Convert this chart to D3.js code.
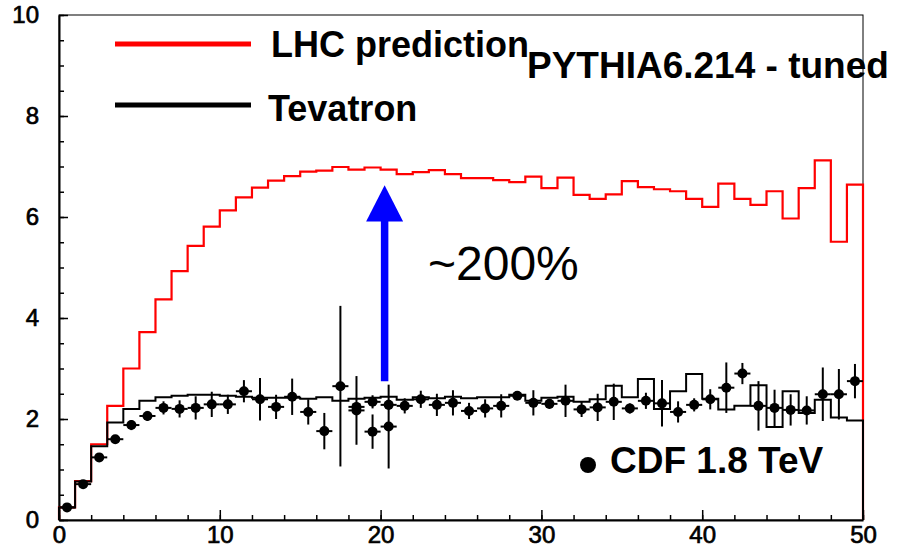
<!DOCTYPE html>
<html>
<head>
<meta charset="utf-8">
<script src="https://cdn.jsdelivr.net/npm/d3@7/dist/d3.min.js"></script>
<style>
body { margin: 0; background: #fff; }
svg { display: block; font-family: 'Liberation Sans', Arial, sans-serif; }
.axis text { font-size: 24px; fill: #000; stroke: #000; stroke-width: 0.7px; }
.axis line { stroke: #000; stroke-width: 1.5; }
.axis path { stroke: #000; stroke-width: 2; }
.label { font-size: 36px; font-weight: bold; fill: #000; }
</style>
</head>
<body>
<svg width="904" height="549"></svg>
<script>
// histogram contents, 50 bins of width 1 from 0 to 50
var lhcValues = [0.25, 0.77, 1.50, 2.26, 3.00, 3.72, 4.37, 4.93, 5.43, 5.81,
    6.13, 6.39, 6.58, 6.72, 6.81, 6.90, 6.92, 6.99, 6.94, 6.98,
    6.94, 6.85, 6.89, 6.93, 6.85, 6.77, 6.77, 6.73, 6.69, 6.80,
    6.57, 6.78, 6.44, 6.36, 6.45, 6.71, 6.59, 6.55, 6.51, 6.36,
    6.20, 6.66, 6.36, 6.24, 6.51, 5.97, 6.57, 7.12, 5.51, 6.64];

var tevValues = [0.25, 0.76, 1.46, 1.93, 2.20, 2.36, 2.43, 2.46, 2.48, 2.48,
    2.46, 2.44, 2.42, 2.42, 2.42, 2.40, 2.43, 2.36, 2.40, 2.42,
    2.44, 2.38, 2.43, 2.41, 2.44, 2.41, 2.43, 2.43, 2.48, 2.36,
    2.42, 2.44, 2.34, 2.39, 2.66, 2.43, 2.79, 2.20, 2.55, 2.89,
    2.40, 2.19, 2.26, 2.67, 1.84, 2.55, 2.12, 2.38, 2.03, 1.97];

// CDF 1.8 TeV data points
var cdfX = [0.5, 1.5, 2.5, 3.5, 4.5, 5.5, 6.5, 7.5, 8.5, 9.5,
    10.5, 11.5, 12.5, 13.5, 14.5, 15.5, 16.5, 17.5, 18.5, 18.5,
    19.5, 19.5, 20.5, 20.5, 21.5, 22.5, 23.5, 24.5, 25.5, 26.5,
    27.5, 28.5, 29.5, 30.5, 31.5, 32.5, 33.5, 34.5, 35.5, 36.5,
    37.5, 38.5, 39.5, 40.5, 41.5, 42.5, 43.5, 44.5, 45.5, 46.5,
    47.5, 48.5, 49.5];
var cdfY = [0.25, 0.71, 1.24, 1.60, 1.88, 2.06, 2.22, 2.20, 2.22, 2.29,
    2.29, 2.55, 2.39, 2.24, 2.44, 2.14, 1.76, 2.65, 2.24, 2.17,
    2.34, 1.75, 2.28, 1.85, 2.26, 2.39, 2.28, 2.32, 2.16, 2.21,
    2.26, 2.46, 2.32, 2.30, 2.36, 2.19, 2.23, 2.34, 2.21, 2.36,
    2.31, 2.14, 2.28, 2.39, 2.62, 2.90, 2.26, 2.22, 2.18, 2.17,
    2.49, 2.49, 2.75];
var cdfErr = [0.02, 0.03, 0.05, 0.05, 0.10, 0.10, 0.13, 0.17, 0.23, 0.25,
    0.19, 0.22, 0.42, 0.24, 0.36, 0.25, 0.36, 1.59, 0.08, 0.68,
    0.13, 0.34, 0.10, 0.83, 0.15, 0.17, 0.22, 0.25, 0.16, 0.18,
    0.23, 0.08, 0.25, 0.10, 0.32, 0.15, 0.27, 0.36, 0.10, 0.16,
    0.46, 0.21, 0.13, 0.20, 0.50, 0.21, 0.49, 0.36, 0.31, 0.28,
    0.53, 0.50, 0.34];

var xMajor = [0, 10, 20, 30, 40, 50];
var xMinor = d3.range(0, 50.1, 2);
var yMajor = [0, 2, 4, 6, 8, 10];
var yMinor = d3.range(0, 10.1, 0.5);

// arrow "~200%", in data units
var arrowX = 20.25, arrowFrom = 2.75, arrowTo = 6.63, arrowHead = 0.72, arrowHalf = 1.15;

var svg = d3.select('svg');
var plot = {left: 59, right: 863, top: 15, bottom: 520};

var xScale = d3.scaleLinear().domain([0, 50]).range([plot.left, plot.right]);
var yScale = d3.scaleLinear().domain([0, 10]).range([plot.bottom, plot.top]);

// frame
svg.append('rect')
    .attr('x', plot.left)
    .attr('y', plot.top)
    .attr('width', plot.right - plot.left)
    .attr('height', plot.bottom - plot.top)
    .style('fill', 'none')
    .style('stroke', '#000')
    .style('stroke-width', 1);

// minor ticks first, then majors with labels
svg.append('g')
    .attr('class', 'axis')
    .attr('transform', 'translate(' + plot.left + ',0)')
    .call(d3.axisLeft(yScale).tickValues(yMinor).tickSize(-5).tickFormat(''))
    .call(function(g) { g.select('.domain').remove(); });
svg.append('g')
    .attr('class', 'axis')
    .attr('transform', 'translate(0,' + plot.bottom + ')')
    .call(d3.axisBottom(xScale).tickValues(xMinor).tickSize(-5).tickFormat(''))
    .call(function(g) { g.select('.domain').remove(); });

svg.append('g')
    .attr('class', 'axis')
    .attr('transform', 'translate(' + plot.left + ',0)')
    .call(d3.axisLeft(yScale).tickValues(yMajor).tickSizeInner(-9).tickSizeOuter(0).tickPadding(20));
svg.append('g')
    .attr('class', 'axis')
    .attr('transform', 'translate(0,' + plot.bottom + ')')
    .call(d3.axisBottom(xScale).tickValues(xMajor).tickSizeInner(-10).tickSizeOuter(0).tickPadding(6));

svg.selectAll('.axis text').style('font-family', "'Liberation Sans', Arial, sans-serif");

// step histograms
var stepLine = d3.line()
    .x(function(d) { return xScale(d[0]); })
    .y(function(d) { return yScale(d[1]); });

function histPoints(values) {
    var pts = [[0, 0]];
    values.forEach(function(v, i) {
        pts.push([i, v]);
        pts.push([i + 1, v]);
    });
    pts.push([values.length, 0]);
    return pts;
}

svg.append('path')
    .datum(histPoints(lhcValues))
    .attr('d', stepLine)
    .style('fill', 'none')
    .style('stroke', '#ff0000')
    .style('stroke-width', 2.2);

svg.append('path')
    .datum(histPoints(tevValues))
    .attr('d', stepLine)
    .style('fill', 'none')
    .style('stroke', '#000')
    .style('stroke-width', 2);

// CDF points with error bars
var cdf = cdfX.map(function(x, i) { return {x: x, y: cdfY[i], e: cdfErr[i]}; });
var pointG = svg.append('g').attr('class', 'cdf');

pointG.selectAll('.xerr')
    .data(cdf)
    .enter()
    .append('line')
    .attr('class', 'xerr')
    .attr('x1', function(d) { return xScale(d.x - 0.5); })
    .attr('x2', function(d) { return xScale(d.x + 0.5); })
    .attr('y1', function(d) { return yScale(d.y); })
    .attr('y2', function(d) { return yScale(d.y); })
    .style('stroke', '#000')
    .style('stroke-width', 2);

pointG.selectAll('.yerr')
    .data(cdf)
    .enter()
    .append('line')
    .attr('class', 'yerr')
    .attr('x1', function(d) { return xScale(d.x); })
    .attr('x2', function(d) { return xScale(d.x); })
    .attr('y1', function(d) { return yScale(d.y - d.e); })
    .attr('y2', function(d) { return yScale(d.y + d.e); })
    .style('stroke', '#000')
    .style('stroke-width', 2);

pointG.selectAll('.dot')
    .data(cdf)
    .enter()
    .append('circle')
    .attr('class', 'dot')
    .attr('cx', function(d) { return xScale(d.x); })
    .attr('cy', function(d) { return yScale(d.y); })
    .attr('r', 5)
    .style('fill', '#000');

// blue arrow
svg.append('line')
    .attr('x1', xScale(arrowX))
    .attr('x2', xScale(arrowX))
    .attr('y1', yScale(arrowFrom))
    .attr('y2', yScale(arrowTo - arrowHead + 0.05))
    .style('stroke', '#0000ff')
    .style('stroke-width', 7.5);
svg.append('path')
    .attr('d', d3.line()([
        [xScale(arrowX - arrowHalf), yScale(arrowTo - arrowHead)],
        [xScale(arrowX), yScale(arrowTo)],
        [xScale(arrowX + arrowHalf), yScale(arrowTo - arrowHead)]
    ]) + 'Z')
    .style('fill', '#0000ff');

// legend
svg.append('line')
    .attr('x1', 115).attr('x2', 251).attr('y1', 44).attr('y2', 44)
    .style('stroke', '#ff0000').style('stroke-width', 5);
svg.append('line')
    .attr('x1', 115).attr('x2', 251).attr('y1', 105).attr('y2', 105)
    .style('stroke', '#000').style('stroke-width', 5);
svg.append('text').attr('class', 'label').attr('x', 271).attr('y', 57).text('LHC prediction');
svg.append('text').attr('class', 'label').attr('x', 268).attr('y', 121).text('Tevatron');
svg.append('text').attr('class', 'label').attr('x', 527).attr('y', 78)
    .style('font-size', '37px').text('PYTHIA6.214 - tuned');

svg.append('circle').attr('cx', 588).attr('cy', 465).attr('r', 8).style('fill', '#000');
svg.append('text').attr('class', 'label').attr('x', 610).attr('y', 473)
    .style('font-size', '37px').text('CDF 1.8 TeV');

svg.append('text')
    .attr('x', 428)
    .attr('y', 280)
    .style('font-size', '48px')
    .style('fill', '#000')
    .text('~200%');
</script>
</body>
</html>
